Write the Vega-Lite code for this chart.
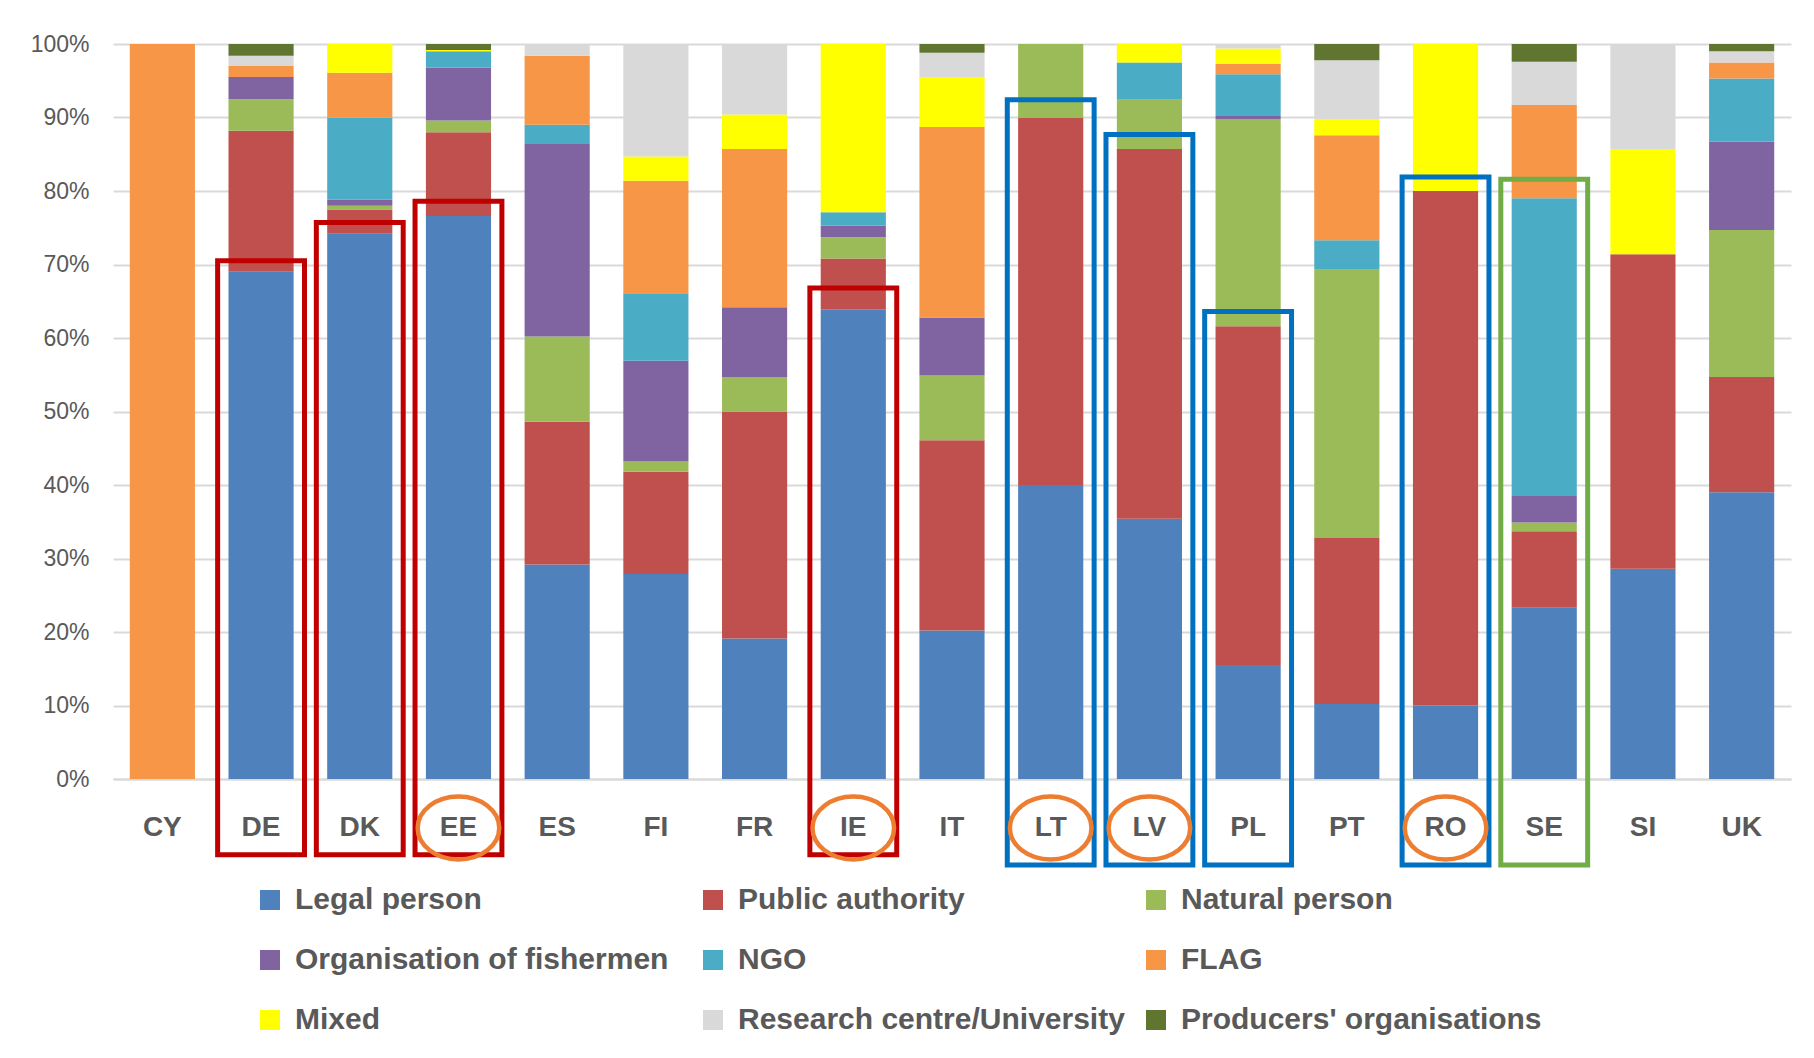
{
  "$schema": "https://vega.github.io/schema/vega-lite/v6.json",
  "autosize": "none",
  "width": 1678,
  "height": 735,
  "padding": {"left": 113, "top": 44, "right": 23, "bottom": 279},
  "background": "white",
  "config": {"font": "Liberation Sans", "view": {"stroke": null}},
  "datasets": {
    "shares": [
      {"c": "CY", "t": "FLAG", "v": 100},
      {"c": "DE", "t": "Legal person", "v": 69.0},
      {"c": "DE", "t": "Public authority", "v": 19.2},
      {"c": "DE", "t": "Natural person", "v": 4.3},
      {"c": "DE", "t": "Organisation of fishermen", "v": 3.0},
      {"c": "DE", "t": "FLAG", "v": 1.5},
      {"c": "DE", "t": "Research centre/University", "v": 1.4},
      {"c": "DE", "t": "Producers' organisations", "v": 1.6},
      {"c": "DK", "t": "Legal person", "v": 74.2},
      {"c": "DK", "t": "Public authority", "v": 3.3},
      {"c": "DK", "t": "Natural person", "v": 0.5},
      {"c": "DK", "t": "Organisation of fishermen", "v": 0.8},
      {"c": "DK", "t": "NGO", "v": 11.2},
      {"c": "DK", "t": "FLAG", "v": 6.1},
      {"c": "DK", "t": "Mixed", "v": 3.9},
      {"c": "EE", "t": "Legal person", "v": 76.6},
      {"c": "EE", "t": "Public authority", "v": 11.4},
      {"c": "EE", "t": "Natural person", "v": 1.6},
      {"c": "EE", "t": "Organisation of fishermen", "v": 7.2},
      {"c": "EE", "t": "NGO", "v": 2.2},
      {"c": "EE", "t": "Mixed", "v": 0.2},
      {"c": "EE", "t": "Producers' organisations", "v": 0.8},
      {"c": "ES", "t": "Legal person", "v": 29.2},
      {"c": "ES", "t": "Public authority", "v": 19.4},
      {"c": "ES", "t": "Natural person", "v": 11.6},
      {"c": "ES", "t": "Organisation of fishermen", "v": 26.2},
      {"c": "ES", "t": "NGO", "v": 2.6},
      {"c": "ES", "t": "FLAG", "v": 9.4},
      {"c": "ES", "t": "Research centre/University", "v": 1.6},
      {"c": "FI", "t": "Legal person", "v": 27.9},
      {"c": "FI", "t": "Public authority", "v": 13.9},
      {"c": "FI", "t": "Natural person", "v": 1.4},
      {"c": "FI", "t": "Organisation of fishermen", "v": 13.7},
      {"c": "FI", "t": "NGO", "v": 9.2},
      {"c": "FI", "t": "FLAG", "v": 15.3},
      {"c": "FI", "t": "Mixed", "v": 3.3},
      {"c": "FI", "t": "Research centre/University", "v": 15.3},
      {"c": "FR", "t": "Legal person", "v": 19.1},
      {"c": "FR", "t": "Public authority", "v": 30.9},
      {"c": "FR", "t": "Natural person", "v": 4.7},
      {"c": "FR", "t": "Organisation of fishermen", "v": 9.5},
      {"c": "FR", "t": "FLAG", "v": 21.5},
      {"c": "FR", "t": "Mixed", "v": 4.7},
      {"c": "FR", "t": "Research centre/University", "v": 9.6},
      {"c": "IE", "t": "Legal person", "v": 63.9},
      {"c": "IE", "t": "Public authority", "v": 6.9},
      {"c": "IE", "t": "Natural person", "v": 2.9},
      {"c": "IE", "t": "Organisation of fishermen", "v": 1.6},
      {"c": "IE", "t": "NGO", "v": 1.8},
      {"c": "IE", "t": "Mixed", "v": 22.9},
      {"c": "IT", "t": "Legal person", "v": 20.2},
      {"c": "IT", "t": "Public authority", "v": 25.9},
      {"c": "IT", "t": "Natural person", "v": 8.8},
      {"c": "IT", "t": "Organisation of fishermen", "v": 7.9},
      {"c": "IT", "t": "FLAG", "v": 25.9},
      {"c": "IT", "t": "Mixed", "v": 6.8},
      {"c": "IT", "t": "Research centre/University", "v": 3.3},
      {"c": "IT", "t": "Producers' organisations", "v": 1.2},
      {"c": "LT", "t": "Legal person", "v": 40.0},
      {"c": "LT", "t": "Public authority", "v": 50.0},
      {"c": "LT", "t": "Natural person", "v": 10.0},
      {"c": "LV", "t": "Legal person", "v": 35.4},
      {"c": "LV", "t": "Public authority", "v": 50.3},
      {"c": "LV", "t": "Natural person", "v": 6.7},
      {"c": "LV", "t": "NGO", "v": 5.1},
      {"c": "LV", "t": "Mixed", "v": 2.5},
      {"c": "PL", "t": "Legal person", "v": 15.5},
      {"c": "PL", "t": "Public authority", "v": 46.1},
      {"c": "PL", "t": "Natural person", "v": 28.2},
      {"c": "PL", "t": "Organisation of fishermen", "v": 0.4},
      {"c": "PL", "t": "NGO", "v": 5.7},
      {"c": "PL", "t": "FLAG", "v": 1.4},
      {"c": "PL", "t": "Mixed", "v": 2.1},
      {"c": "PL", "t": "Research centre/University", "v": 0.6},
      {"c": "PT", "t": "Legal person", "v": 10.2},
      {"c": "PT", "t": "Public authority", "v": 22.6},
      {"c": "PT", "t": "Natural person", "v": 36.5},
      {"c": "PT", "t": "NGO", "v": 4.0},
      {"c": "PT", "t": "FLAG", "v": 14.3},
      {"c": "PT", "t": "Mixed", "v": 2.2},
      {"c": "PT", "t": "Research centre/University", "v": 8.0},
      {"c": "PT", "t": "Producers' organisations", "v": 2.2},
      {"c": "RO", "t": "Legal person", "v": 10.0},
      {"c": "RO", "t": "Public authority", "v": 70.0},
      {"c": "RO", "t": "Mixed", "v": 20.0},
      {"c": "SE", "t": "Legal person", "v": 23.3},
      {"c": "SE", "t": "Public authority", "v": 10.4},
      {"c": "SE", "t": "Natural person", "v": 1.2},
      {"c": "SE", "t": "Organisation of fishermen", "v": 3.6},
      {"c": "SE", "t": "NGO", "v": 40.5},
      {"c": "SE", "t": "FLAG", "v": 12.7},
      {"c": "SE", "t": "Research centre/University", "v": 5.9},
      {"c": "SE", "t": "Producers' organisations", "v": 2.4},
      {"c": "SI", "t": "Legal person", "v": 28.6},
      {"c": "SI", "t": "Public authority", "v": 42.8},
      {"c": "SI", "t": "Mixed", "v": 14.3},
      {"c": "SI", "t": "Research centre/University", "v": 14.3},
      {"c": "UK", "t": "Legal person", "v": 39.0},
      {"c": "UK", "t": "Public authority", "v": 15.7},
      {"c": "UK", "t": "Natural person", "v": 20.0},
      {"c": "UK", "t": "Organisation of fishermen", "v": 12.0},
      {"c": "UK", "t": "NGO", "v": 8.6},
      {"c": "UK", "t": "FLAG", "v": 2.2},
      {"c": "UK", "t": "Research centre/University", "v": 1.5},
      {"c": "UK", "t": "Producers' organisations", "v": 1.0}
    ],
    "boxes": [
      {"c": "DE", "top": 0.705, "g": "Legal person"},
      {"c": "DK", "top": 0.757, "g": "Legal person"},
      {"c": "EE", "top": 0.786, "g": "Legal person"},
      {"c": "IE", "top": 0.668, "g": "Legal person"},
      {"c": "LT", "top": 0.924, "g": "Public authority"},
      {"c": "LV", "top": 0.877, "g": "Public authority"},
      {"c": "PL", "top": 0.636, "g": "Public authority"},
      {"c": "RO", "top": 0.819, "g": "Public authority"},
      {"c": "SE", "top": 0.816, "g": "NGO"}
    ],
    "circled": [
      {"c": "EE"}, {"c": "IE"}, {"c": "LT"}, {"c": "LV"}, {"c": "RO"}
    ]
  },
  "encoding": {
    "x": {
      "field": "c",
      "type": "nominal",
      "title": null,
      "scale": {"paddingInner": 0, "paddingOuter": 0},
      "axis": {
        "labelAngle": 0,
        "domain": true,
        "domainColor": "#D9D9D9",
        "domainWidth": 2,
        "ticks": false,
        "labelFontSize": 28,
        "labelFontWeight": "bold",
        "labelColor": "#595959",
        "labelPadding": 34
      }
    }
  },
  "layer": [
    {
      "data": {"name": "shares"},
      "transform": [
        {"calculate": "indexof(['Legal person','Public authority','Natural person','Organisation of fishermen','NGO','FLAG','Mixed','Research centre/University',\"Producers' organisations\"], datum.t)", "as": "k"}
      ],
      "mark": {"type": "bar", "width": {"band": 0.66}},
      "encoding": {
        "y": {
          "field": "v",
          "type": "quantitative",
          "stack": "normalize",
          "title": null,
          "scale": {"domain": [0, 1], "nice": false, "zero": false},
          "axis": {
            "format": ".0%",
            "values": [0, 0.1, 0.2, 0.3, 0.4, 0.5, 0.6, 0.7, 0.8, 0.9, 1],
            "grid": true,
            "gridColor": "#D9D9D9",
            "gridWidth": 2,
            "domain": false,
            "ticks": false,
            "labelFontSize": 23,
            "labelColor": "#595959",
            "labelPadding": 24
          }
        },
        "order": {"field": "k", "type": "quantitative", "sort": "ascending"},
        "color": {
          "field": "t",
          "type": "nominal",
          "scale": {
            "domain": ["Legal person", "Public authority", "Natural person", "Organisation of fishermen", "NGO", "FLAG", "Mixed", "Research centre/University", "Producers' organisations"],
            "range": ["#4F81BD", "#C0504D", "#9BBB59", "#8064A2", "#4BACC6", "#F79646", "#FFFF00", "#D9D9D9", "#60752F"]
          },
          "legend": {
            "orient": "none",
            "legendX": 142,
            "legendY": 841,
            "columns": 3,
            "direction": "horizontal",
            "title": null,
            "symbolType": "square",
            "symbolSize": 400,
            "symbolStrokeWidth": 0,
            "labelFontSize": 30,
            "labelFontWeight": "bold",
            "labelColor": "#595959",
            "labelOffset": 10,
            "labelLimit": 700,
            "columnPadding": 16,
            "rowPadding": 30,
            "gridAlign": "all",
            "padding": 0
          }
        }
      }
    },
    {
      "data": {"name": "boxes"},
      "transform": [{"filter": "datum.g == 'Legal person'"}],
      "mark": {"type": "bar", "width": {"band": 0.88}, "fillOpacity": 0, "strokeWidth": 5},
      "encoding": {
        "y": {"field": "top", "type": "quantitative", "title": null},
        "y2": {"datum": -0.103},
        "stroke": {
          "field": "g",
          "type": "nominal",
          "scale": {"domain": ["Legal person", "Public authority", "NGO"], "range": ["#C00000", "#0070C0", "#70AD47"]},
          "legend": null
        }
      }
    },
    {
      "data": {"name": "boxes"},
      "transform": [{"filter": "datum.g != 'Legal person'"}],
      "mark": {"type": "bar", "width": {"band": 0.88}, "fillOpacity": 0, "strokeWidth": 5},
      "encoding": {
        "y": {"field": "top", "type": "quantitative", "title": null},
        "y2": {"datum": -0.117},
        "stroke": {
          "field": "g",
          "type": "nominal",
          "scale": {"domain": ["Legal person", "Public authority", "NGO"], "range": ["#C00000", "#0070C0", "#70AD47"]},
          "legend": null
        }
      }
    },
    {
      "data": {"name": "circled"},
      "mark": {
        "type": "point",
        "filled": false,
        "shape": "M 1 0 C 1 0.4253 0.5523 0.77 0 0.77 C -0.5523 0.77 -1 0.4253 -1 0 C -1 -0.4253 -0.5523 -0.77 0 -0.77 C 0.5523 -0.77 1 -0.4253 1 0 Z",
        "size": 6660,
        "stroke": "#ED7D31",
        "strokeWidth": 4.5,
        "opacity": 1
      },
      "encoding": {
        "y": {"datum": -0.0667}
      }
    }
  ]
}
